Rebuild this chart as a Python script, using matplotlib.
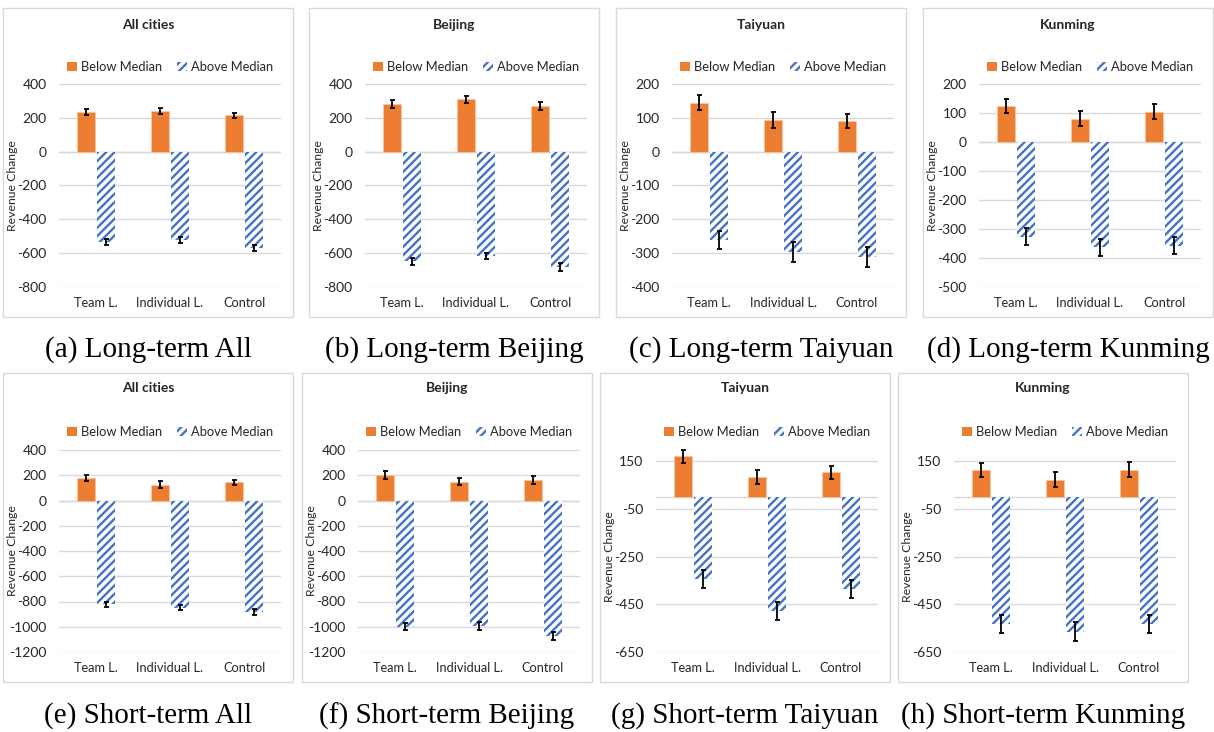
import matplotlib
matplotlib.use('Agg')
import matplotlib.pyplot as plt
import matplotlib.patches as mpatches
import numpy as np

W, H = 1214, 732

categories = ['Team L.', 'Individual L.', 'Control']
series_names = ['Below Median', 'Above Median']

titles = ['All cities', 'Beijing', 'Taiyuan', 'Kunming',
          'All cities', 'Beijing', 'Taiyuan', 'Kunming']
captions = ['(a) Long-term All', '(b) Long-term Beijing', '(c) Long-term Taiyuan',
            '(d) Long-term Kunming', '(e) Short-term All', '(f) Short-term Beijing',
            '(g) Short-term Taiyuan', '(h) Short-term Kunming']

# long-term
lt_all_below = [235, 240, 215]
lt_all_below_err = [18, 18, 16]
lt_all_above = [-535, -522, -568]
lt_all_above_err = [18, 16, 18]

lt_bj_below = [282, 310, 270]
lt_bj_below_err = [24, 22, 22]
lt_bj_above = [-648, -615, -682]
lt_bj_above_err = [20, 18, 22]

lt_ty_below = [145, 94, 91]
lt_ty_below_err = [23, 24, 21]
lt_ty_above = [-262, -297, -312]
lt_ty_above_err = [27, 29, 30]

lt_km_below = [124, 81, 105]
lt_km_below_err = [25, 26, 25]
lt_km_above = [-327, -363, -357]
lt_km_above_err = [29, 30, 30]

# short-term
st_all_below = [180, 126, 144]
st_all_below_err = [25, 25, 22]
st_all_above = [-823, -849, -884]
st_all_above_err = [22, 22, 22]

st_bj_below = [200, 150, 163]
st_bj_below_err = [30, 28, 30]
st_bj_above = [-1000, -995, -1072]
st_bj_above_err = [28, 32, 30]

st_ty_below = [170, 82, 102]
st_ty_below_err = [28, 29, 28]
st_ty_above = [-343, -478, -385]
st_ty_above_err = [38, 39, 38]

st_km_below = [111, 72, 114]
st_km_below_err = [29, 30, 30]
st_km_above = [-531, -565, -533]
st_km_above_err = [38, 39, 38]

below = [lt_all_below, lt_bj_below, lt_ty_below, lt_km_below,
         st_all_below, st_bj_below, st_ty_below, st_km_below]
below_err = [lt_all_below_err, lt_bj_below_err, lt_ty_below_err, lt_km_below_err,
             st_all_below_err, st_bj_below_err, st_ty_below_err, st_km_below_err]
above = [lt_all_above, lt_bj_above, lt_ty_above, lt_km_above,
         st_all_above, st_bj_above, st_ty_above, st_km_above]
above_err = [lt_all_above_err, lt_bj_above_err, lt_ty_above_err, lt_km_above_err,
             st_all_above_err, st_bj_above_err, st_ty_above_err, st_km_above_err]

# y ticks per panel (top, bottom, step) and upper limit
yticks_spec = [(400, -800, 200), (400, -800, 200), (200, -400, 100), (200, -500, 100),
               (400, -1200, 200), (400, -1200, 200), (150, -650, 200), (150, -650, 200)]
ytop = [400, 400, 200, 200, 400, 400, 215, 215]

ORANGE = '#ED7D31'
BLUE = '#4472C4'
GRID = '#d9d9d9'
TXT = '#262626'

plt.rcParams['font.family'] = ['Lato', 'DejaVu Sans']
plt.rcParams['hatch.linewidth'] = 1.7
plt.rcParams['axes.unicode_minus'] = False

fig = plt.figure(figsize=(W / 100, H / 100), dpi=100)

# layout in pixels
box_left = [3, 309, 616, 923, 3, 302, 600, 898]
box_w = 290
row_box = [(8, 317), (373, 682)]
row_title = [25, 388]
row_legend = [67, 432]
row_caption = [350, 716]
# pixel rows of top and bottom tick
tick_px = [(84, 287), (84, 287), (84, 287), (84, 287),
           (450, 652), (450, 652), (461, 652), (461, 652)]


def fx(px):
    return px / W


def fy(py):
    return 1 - py / H


x = np.arange(len(categories))
bw = 0.245
off = 0.135

for i in range(8):
    row = i // 4
    bl = box_left[i]
    bt, bb = row_box[row]
    fig.add_artist(mpatches.Rectangle((fx(bl), fy(bb)), box_w / W, (bb - bt) / H,
                                      transform=fig.transFigure, fill=False,
                                      edgecolor=GRID, lw=1))

    t_hi, t_lo, step = yticks_spec[i]
    pt, pb = tick_px[i]
    scale = (pb - pt) / (t_hi - t_lo)
    top_px = pt - (ytop[i] - t_hi) * scale
    ax_l = bl + 56
    ax = fig.add_axes([fx(ax_l), fy(pb), 222 / W, (pb - top_px) / H])

    ax.bar(x - off, below[i], bw, color=ORANGE, edgecolor='#f6c6a4', lw=0.6,
           yerr=below_err[i], zorder=2,
           error_kw=dict(ecolor='black', elinewidth=1.3, capsize=1.8, capthick=1.3))
    ax.bar(x + off, above[i], bw, color='white', edgecolor=BLUE, hatch='////', lw=0,
           yerr=above_err[i], zorder=2,
           error_kw=dict(ecolor='black', elinewidth=1.3, capsize=1.8, capthick=1.3))

    ax.set_xlim(-0.5, 2.5)
    ax.set_ylim(t_lo, ytop[i])
    ax.set_yticks(np.arange(t_lo, t_hi + 1, step))
    ax.set_xticks(x)
    ax.set_xticklabels(categories)
    ax.grid(axis='y', color=GRID, lw=1)
    ax.axhline(0, color=GRID, lw=1, zorder=1)
    ax.set_axisbelow(True)
    for s in ax.spines.values():
        s.set_visible(False)
    ax.tick_params(axis='y', length=0, pad=9, labelsize=10, labelcolor=TXT)
    ax.tick_params(axis='x', length=0, pad=7, labelsize=9.2, labelcolor=TXT)

    handles = [mpatches.Patch(facecolor=ORANGE, edgecolor=ORANGE, lw=0),
               mpatches.Patch(facecolor='white', edgecolor=BLUE, hatch='////', lw=0)]
    ax.legend(handles, series_names, loc='center', ncol=2, frameon=False,
              bbox_to_anchor=(fx(ax_l + 111), fy(row_legend[row])),
              bbox_transform=fig.transFigure, fontsize=9.3, handlelength=0.75,
              handleheight=0.75, handletextpad=0.3, columnspacing=1.2,
              labelcolor=TXT)

    fig.text(fx(bl + box_w / 2), fy(row_title[row]), titles[i], ha='center', va='center',
             fontsize=10, fontweight='bold', color=TXT)
    fig.text(fx(bl + 9.5), fy((pt + pb) / 2), 'Revenue Change', rotation=90,
             ha='center', va='center', fontsize=8.8, color=TXT)
    fig.text(fx(bl + box_w / 2), fy(row_caption[row]), captions[i], ha='center',
             va='center', fontsize=21, family='Liberation Serif', color='black')

fig.savefig('out.png', dpi=100)
